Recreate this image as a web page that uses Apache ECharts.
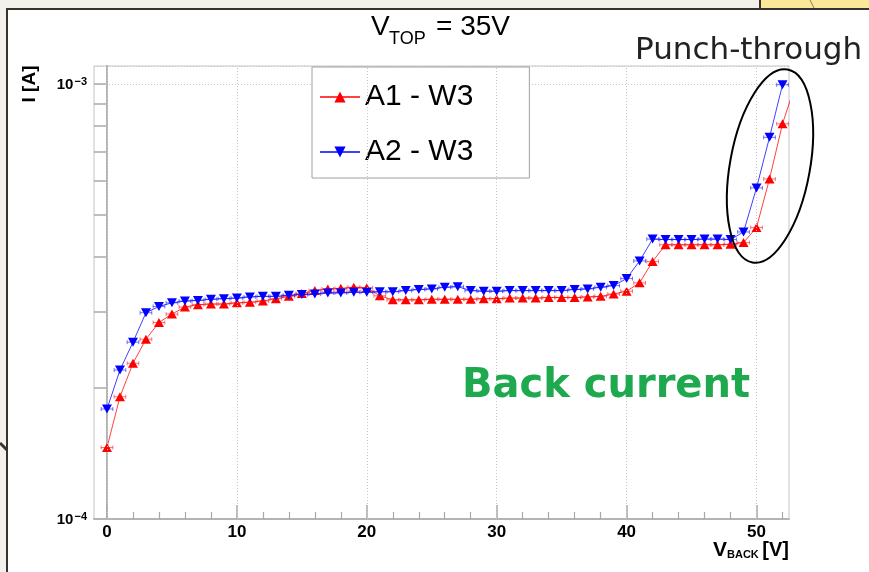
<!DOCTYPE html>
<html><head><meta charset="utf-8">
<script src="https://cdn.jsdelivr.net/npm/echarts@6/dist/echarts.min.js"></script>
<style>html,body{margin:0;padding:0;background:#fff}#c{width:869px;height:572px}</style>
</head><body><div id="c"></div>
<script>
// ---- data ----
const vBack = [0,1,2,3,4,5,6,7,8,9,10,11,12,13,14,15,16,17,18,19,20,21,22,23,24,25,26,27,28,29,30,31,32,33,34,35,36,37,38,39,40,41,42,43,44,45,46,47,48,49,50,51,52,53];
const a1W3 = [1.46e-4,1.91e-4,2.28e-4,2.59e-4,2.83e-4,2.96e-4,3.07e-4,3.11e-4,3.12e-4,3.12e-4,
  3.14e-4,3.15e-4,3.17e-4,3.21e-4,3.25e-4,3.30e-4,3.35e-4,3.38e-4,3.39e-4,3.41e-4,
  3.40e-4,3.26e-4,3.19e-4,3.19e-4,3.19e-4,3.20e-4,3.20e-4,3.20e-4,3.20e-4,3.21e-4,
  3.21e-4,3.22e-4,3.22e-4,3.22e-4,3.23e-4,3.23e-4,3.23e-4,3.24e-4,3.25e-4,3.29e-4,
  3.34e-4,3.49e-4,3.91e-4,4.27e-4,4.27e-4,4.27e-4,4.27e-4,4.27e-4,4.28e-4,4.32e-4,
  4.68e-4,6.05e-4,8.10e-4,1.00e-3];
const a2W3 = [1.79e-4,2.20e-4,2.55e-4,2.98e-4,3.08e-4,3.14e-4,3.17e-4,3.18e-4,3.20e-4,3.21e-4,
  3.22e-4,3.24e-4,3.25e-4,3.25e-4,3.27e-4,3.28e-4,3.29e-4,3.31e-4,3.31e-4,3.32e-4,
  3.32e-4,3.33e-4,3.33e-4,3.35e-4,3.37e-4,3.38e-4,3.41e-4,3.42e-4,3.35e-4,3.34e-4,
  3.34e-4,3.35e-4,3.35e-4,3.35e-4,3.35e-4,3.35e-4,3.37e-4,3.38e-4,3.41e-4,3.44e-4,
  3.57e-4,3.92e-4,4.40e-4,4.39e-4,4.39e-4,4.39e-4,4.40e-4,4.40e-4,4.39e-4,4.57e-4,
  5.77e-4,7.54e-4,9.96e-4];
const vBackErr = 0.45;   // horizontal error bar half-width (V)
const seriesNames = ['A1 - W3', 'A2 - W3'];
const xMajorTicks = [0,10,20,30,40,50];
const xMinorTicks = [2,4,6,8,12,14,16,18,22,24,26,28,32,34,36,38,42,44,46,48,52];
const yGridValues = [2e-4,3e-4,4e-4,5e-4,6e-4,7e-4,8e-4,9e-4];
const yTickValues = [2e-4,3e-4,4e-4,5e-4,6e-4,7e-4,8e-4,9e-4,1e-3];
const xMin = -1, xMax = 52.5, yMin = 1e-4, yMax = 1.1e-3;

const chart = echarts.init(document.getElementById('c'), null, {renderer:'canvas'});
const FONT = 'Liberation Sans';
const dark = '#3a322d';

const gridMarks = [];
xMajorTicks.forEach(v => gridMarks.push({xAxis: v}));
yGridValues.forEach(v => gridMarks.push({yAxis: v}));
const tickMarks = yTickValues.map(v => [{coord:[xMin, v]}, {coord:[xMin + 0.92, v]}]);

const redPts = vBack.map((v, i) => [v, a1W3[i]]);
const bluePts = vBack.slice(0, a2W3.length).map((v, i) => [v, a2W3[i]]);

function errBars(color) {
  return function (params, api) {
    const x = api.value(0), y = api.value(1);
    const p1 = api.coord([x - vBackErr, y]);
    const p2 = api.coord([x + vBackErr, y]);
    const st = {stroke: color, lineWidth: 1, opacity: 0.55};
    return {type: 'group', children: [
      {type: 'line', shape: {x1: p1[0], y1: p1[1], x2: p2[0], y2: p2[1]}, style: st},
      {type: 'line', shape: {x1: p1[0], y1: p1[1] - 2, x2: p1[0], y2: p1[1] + 2}, style: st},
      {type: 'line', shape: {x1: p2[0], y1: p2[1] - 2, x2: p2[0], y2: p2[1] + 2}, style: st}
    ]};
  };
}

const option = {
  backgroundColor: '#ffffff',
  animation: false,
  grid: {left: 94, right: 80, top: 66, bottom: 53, show: true, borderColor: '#c4c4c4', borderWidth: 1, backgroundColor: 'transparent'},
  legend: {
    data: seriesNames, orient: 'vertical', left: 312, top: 67,
    padding: [15, 56, 11, 7], itemGap: 25, itemWidth: 40, itemHeight: 14,
    backgroundColor: '#fff', borderColor: '#a0a0a0', borderWidth: 1, borderRadius: 0,
    textStyle: {fontSize: 30, fontFamily: FONT, color: '#000', lineHeight: 30},
    selectedMode: false
  },
  xAxis: [{
    type: 'value', min: xMin, max: xMax,
    axisLine: {show: true, onZero: false, lineStyle: {color: '#b4b4b4', width: 2}},
    axisTick: {show: true, inside: true, length: 14, customValues: xMajorTicks, lineStyle: {color: '#a8a8a8', width: 1.5}},
    axisLabel: {customValues: xMajorTicks, fontSize: 17, fontWeight: 'bold', fontFamily: FONT, color: '#000', margin: 5},
    splitLine: {show: false}
  }, {
    type: 'value', min: xMin, max: xMax, position: 'bottom',
    axisLine: {show: false},
    axisTick: {show: true, inside: true, length: 7, customValues: xMinorTicks, lineStyle: {color: '#a8a8a8', width: 1.2}},
    axisLabel: {show: false}, splitLine: {show: false}
  }],
  yAxis: [{
    type: 'log', logBase: 10, min: yMin, max: yMax, interval: 1,
    axisLine: {show: true, lineStyle: {color: '#b4b4b4', width: 2}},
    axisTick: {show: false},
    axisLabel: {
      margin: 7, fontFamily: FONT, color: '#000',
      formatter: function (v) {
        const e = Math.round(Math.log10(v));
        if (Math.abs(Math.log10(v) - e) > 0.01) return '';
        return '{b|10}{s|' + (e < 0 ? '\u2212' : '') + Math.abs(e) + '}';
      },
      rich: {
        b: {fontSize: 15, fontWeight: 'bold', fontFamily: FONT, color: '#000', lineHeight: 16, verticalAlign: 'bottom'},
        s: {fontSize: 11, fontWeight: 'bold', fontFamily: FONT, color: '#000', lineHeight: 11, verticalAlign: 'top', padding: [0, 0, 0, 1]}
      }
    },
    splitLine: {show: true, lineStyle: {color: '#c8c8c8', type: [1, 2], width: 1}}
  }, {
    type: 'log', logBase: 10, min: yMin, max: yMax, interval: 1, position: 'right',
    axisLine: {show: true, lineStyle: {color: '#b4b4b4', width: 2}},
    axisTick: {show: false}, axisLabel: {show: false}, splitLine: {show: false}
  }],
  series: [{
    name: 'grid', type: 'line', data: [], z: 1, silent: true,
    markLine: {
      silent: true, symbol: ['none', 'none'], label: {show: false}, animation: false,
      lineStyle: {color: '#c8c8c8', type: [1, 2], width: 1},
      emphasis: {disabled: true},
      data: gridMarks
    }
  }, {
    name: 'ticks', type: 'line', data: [], z: 1, silent: true,
    markLine: {
      silent: true, symbol: ['none', 'none'], label: {show: false}, animation: false,
      lineStyle: {color: '#a8a8a8', type: 'solid', width: 1.5},
      emphasis: {disabled: true},
      data: tickMarks
    }
  }, {
    name: 'errA1', type: 'custom', z: 3, silent: true, clip: true,
    data: redPts, renderItem: errBars('#ff0000')
  }, {
    name: 'errA2', type: 'custom', z: 3, silent: true, clip: true,
    data: bluePts, renderItem: errBars('#0000ff')
  }, {
    name: seriesNames[0], type: 'line', z: 4,
    data: redPts,
    symbol: 'triangle', symbolSize: [10, 9],
    itemStyle: {color: '#ff0000'},
    lineStyle: {color: '#ff0000', width: 1, opacity: 0.75},
    clip: true
  }, {
    name: seriesNames[1], type: 'line', z: 5,
    data: bluePts,
    symbol: 'triangle', symbolRotate: 180, symbolSize: [10, 9],
    itemStyle: {color: '#0000ff'},
    lineStyle: {color: '#0000ff', width: 1, opacity: 0.75},
    clip: true
  }],
  graphic: [
    {type: 'rect', z: -10, shape: {x: 0, y: 0, width: 869, height: 9}, style: {fill: '#f3f1ec'}},
    {type: 'rect', z: -10, shape: {x: 0, y: 0, width: 6, height: 572}, style: {fill: '#f3f1ec'}},
    {type: 'rect', z: -9, shape: {x: 760, y: 0, width: 109, height: 8}, style: {fill: '#fbe99a'}},
    {type: 'line', z: -8, shape: {x1: 810, y1: 0, x2: 814, y2: 8}, style: {stroke: '#8a7a50', lineWidth: 1}},
    {type: 'rect', z: -8, shape: {x: 759, y: 0, width: 2, height: 9}, style: {fill: dark}},
    {type: 'rect', z: -8, shape: {x: 6, y: 8, width: 863, height: 2}, style: {fill: dark}},
    {type: 'rect', z: -8, shape: {x: 6, y: 8, width: 2, height: 564}, style: {fill: dark}},
    {type: 'line', z: -8, shape: {x1: 0, y1: 443, x2: 7, y2: 450}, style: {stroke: dark, lineWidth: 3}},
    // title V_TOP = 35V
    {type: 'text', z: 50, x: 371, y: 27, style: {text: 'V', font: '28px "Liberation Sans"', fill: '#000', verticalAlign: 'middle'}},
    {type: 'text', z: 50, x: 389, y: 39, style: {text: 'TOP', font: '18px "Liberation Sans"', fill: '#000', verticalAlign: 'middle'}},
    {type: 'text', z: 50, x: 436, y: 27, style: {text: '= 35V', font: '28px "Liberation Sans"', fill: '#000', verticalAlign: 'middle'}},
    // axis titles
    {type: 'text', z: 50, x: 713, y: 550, style: {text: 'V', font: 'bold 21px "Liberation Sans"', fill: '#000', verticalAlign: 'middle'}},
    {type: 'text', z: 50, x: 727, y: 555, style: {text: 'BACK', font: 'bold 11px "Liberation Sans"', fill: '#000', verticalAlign: 'middle'}},
    {type: 'text', z: 50, x: 789, y: 550, style: {text: '[V]', font: 'bold 20px "Liberation Sans"', fill: '#000', verticalAlign: 'middle', align: 'right'}},
    {type: 'text', z: 50, x: 30, y: 84, rotation: Math.PI / 2, style: {text: 'I [A]', font: 'bold 19px "Liberation Sans"', fill: '#000', verticalAlign: 'middle', align: 'center'}},
    // annotations
    {type: 'text', z: 60, x: 635, y: 51, style: {text: 'Punch-through', font: '31px "DejaVu Sans"', fill: '#222', verticalAlign: 'middle'}},
    {type: 'text', z: 60, x: 462, y: 387, style: {text: 'Back current', font: 'bold 40px "DejaVu Sans"', fill: '#1fa94f', verticalAlign: 'middle'}},
    {type: 'ellipse', z: 60, x: 770, y: 166, rotation: -0.18, shape: {cx: 0, cy: 0, rx: 40, ry: 98}, style: {fill: 'none', stroke: '#000', lineWidth: 2}}
  ]
};
chart.setOption(option);
</script>
</body></html>
